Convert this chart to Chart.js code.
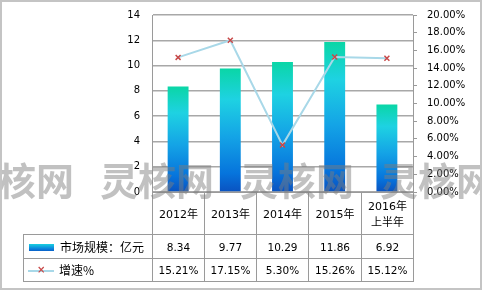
<!DOCTYPE html>
<html>
<head>
<meta charset="utf-8">
<script src="https://cdn.jsdelivr.net/npm/chart.js@4/dist/chart.umd.min.js"></script>
<style>
  html, body { margin: 0; padding: 0; background: #fff; }
  #wrap { position: relative; width: 482px; height: 290px; overflow: hidden; }
  #frame { position: absolute; left: 0; top: 0; width: 478px; height: 286px; border: 2px solid #c4c4c4; }
  canvas { position: absolute; left: 0; top: 0; }
  #tbl { position: absolute; left: 23px; top: 192px; border-collapse: collapse; table-layout: fixed;
         font-family: "DejaVu Sans", sans-serif; font-size: 10.5px; color: #000; }
  #tbl td { border: 1px solid #9a9a9a; text-align: center; padding: 0; line-height: 14px; }
  #tbl td.blank { border: none; border-right: 1px solid #9a9a9a; }
  #tbl tr.cat td { height: 41px; font-size: 11px; line-height: 15px; }
  #tbl tr.cat td span { font-family: "Noto Sans CJK SC", sans-serif; }
  #tbl tr.r1 td { height: 23px; }
  #tbl tr.r2 td { height: 22px; }
  #tbl td.lg { text-align: left; font-family: "Noto Sans CJK SC", sans-serif; font-size: 12px; white-space: nowrap; overflow: hidden; }
  .sw-bar { display: inline-block; width: 25px; height: 7px; margin: 0 6px 0 5px; vertical-align: 1px;
            background: linear-gradient(#1ad0e0, #0a80dc 70%, #0860c8); }
  .sw-line { display: inline-block; position: relative; width: 26px; height: 2px; margin: 0 5px 0 4px; vertical-align: 3px; background: #a8d8e8; }
  .sw-line b { position: absolute; left: 9px; top: -6px; line-height: 12px; color: #c84848; font: bold 10px/12px "DejaVu Sans", sans-serif; }
  #wm { position: absolute; left: 0; top: 0; width: 482px; height: 290px; pointer-events: none; }
  #wm span { position: absolute; top: 157px; font: bold 38px/44px "Noto Sans CJK SC", sans-serif; color: rgba(125,125,125,0.48); white-space: nowrap; }
</style>
</head>
<body>
<div id="wrap">
  <canvas id="chart" width="482" height="290"></canvas>
  <table id="tbl"></table>
  <div id="wm"></div>
  <div id="frame"></div>
</div>
<script>
// 数据
const categories = ["2012年", "2013年", "2014年", "2015年", "2016年\n上半年"];
const marketSize = [8.34, 9.77, 10.29, 11.86, 6.92];
const growthRate = [15.21, 17.15, 5.30, 15.26, 15.12];
const leftTicks = [0, 14, 2];
const rightTicks = [0, 20, 2];
const sizeLabel = "市场规模：亿元";
const growthLabel = "增速%";
const watermark = "灵核网";

// 柱子渐变色
function barGradient(c) {
    const chart = c.chart;
    const area = chart.chartArea;
    if (!area) return "#1aa0e0";
    const y = chart.scales.y;
    const top = y.getPixelForValue(c.raw);
    const bot = y.getPixelForValue(0);
    const g = chart.ctx.createLinearGradient(0, top, 0, bot);
    g.addColorStop(0, "#0ad6a6");
    g.addColorStop(0.25, "#1ed2e2");
    g.addColorStop(0.55, "#14a4e6");
    g.addColorStop(0.85, "#0674dc");
    g.addColorStop(1, "#0a52c0");
    return g;
}

// 固定坐标轴宽度，去掉自动留白
function fixAxis(w) {
    return s => { s.width = w; s.paddingTop = 0; s.paddingBottom = 0; };
}

const ctx = document.getElementById("chart").getContext("2d");
new Chart(ctx, {
    type: "bar",
    data: {
        labels: categories,
        datasets: [{
            type: "line",
            label: growthLabel,
            data: growthRate,
            yAxisID: "y1",
            borderColor: "#a8d8e8",
            borderWidth: 2,
            pointStyle: "crossRot",
            pointRadius: 3.5,
            pointBorderColor: "#c84848",
            pointBorderWidth: 1.5,
            tension: 0,
            order: 0
        }, {
            label: sizeLabel,
            data: marketSize,
            yAxisID: "y",
            backgroundColor: barGradient,
            barPercentage: 0.4,
            categoryPercentage: 1,
            order: 1
        }]
    },
    options: {
        responsive: false,
        animation: false,
        layout: { padding: { left: 0, right: 0, top: 15, bottom: 98 } },
        plugins: {
            legend: { display: false },
            tooltip: { enabled: false }
        },
        scales: {
            x: { display: false },
            y: {
                position: "left",
                min: leftTicks[0], max: leftTicks[1],
                afterFit: fixAxis(152),
                border: { color: "#9a9a9a", width: 1 },
                grid: { color: "#a8a8a8", lineWidth: 1.5, drawTicks: false },
                ticks: { stepSize: leftTicks[2], padding: 12, color: "#000",
                         font: { family: "DejaVu Sans", size: 10 } }
            },
            y1: {
                position: "right",
                min: rightTicks[0], max: rightTicks[1],
                afterFit: fixAxis(69),
                border: { color: "#9a9a9a", width: 1 },
                grid: { drawOnChartArea: false, color: "#9a9a9a", tickLength: 4 },
                ticks: { stepSize: rightTicks[2], padding: 10, color: "#000",
                         font: { family: "DejaVu Sans", size: 10 },
                         callback: v => v.toFixed(2) + "%" }
            }
        }
    }
});

// 数据表
const colW = [129, 52, 52, 52, 53, 52];
let html = "<colgroup>" + colW.map(w => '<col style="width:' + w + 'px">').join("") + "</colgroup>";
html += '<tr class="cat"><td class="blank"></td>' +
    categories.map(c => "<td>" + c.split("\n").map(s => s.replace(/(\d+)(.*)/, "$1<span>$2</span>").replace(/^([^\d<]+)$/, "<span>$1</span>")).join("<br>") + "</td>").join("") + "</tr>";
html += '<tr class="r1"><td class="lg"><i class="sw-bar"></i>' + sizeLabel + "</td>" +
    marketSize.map(v => "<td>" + v.toFixed(2) + "</td>").join("") + "</tr>";
html += '<tr class="r2"><td class="lg"><i class="sw-line"><b>×</b></i>' + growthLabel + "</td>" +
    growthRate.map(v => "<td>" + v.toFixed(2) + "%</td>").join("") + "</tr>";
document.getElementById("tbl").innerHTML = html;

// 水印
const wm = document.getElementById("wm");
[-40, 100, 240, 380].forEach(x => {
    const s = document.createElement("span");
    s.style.left = x + "px";
    s.textContent = watermark;
    wm.appendChild(s);
});
</script>
</body>
</html>
